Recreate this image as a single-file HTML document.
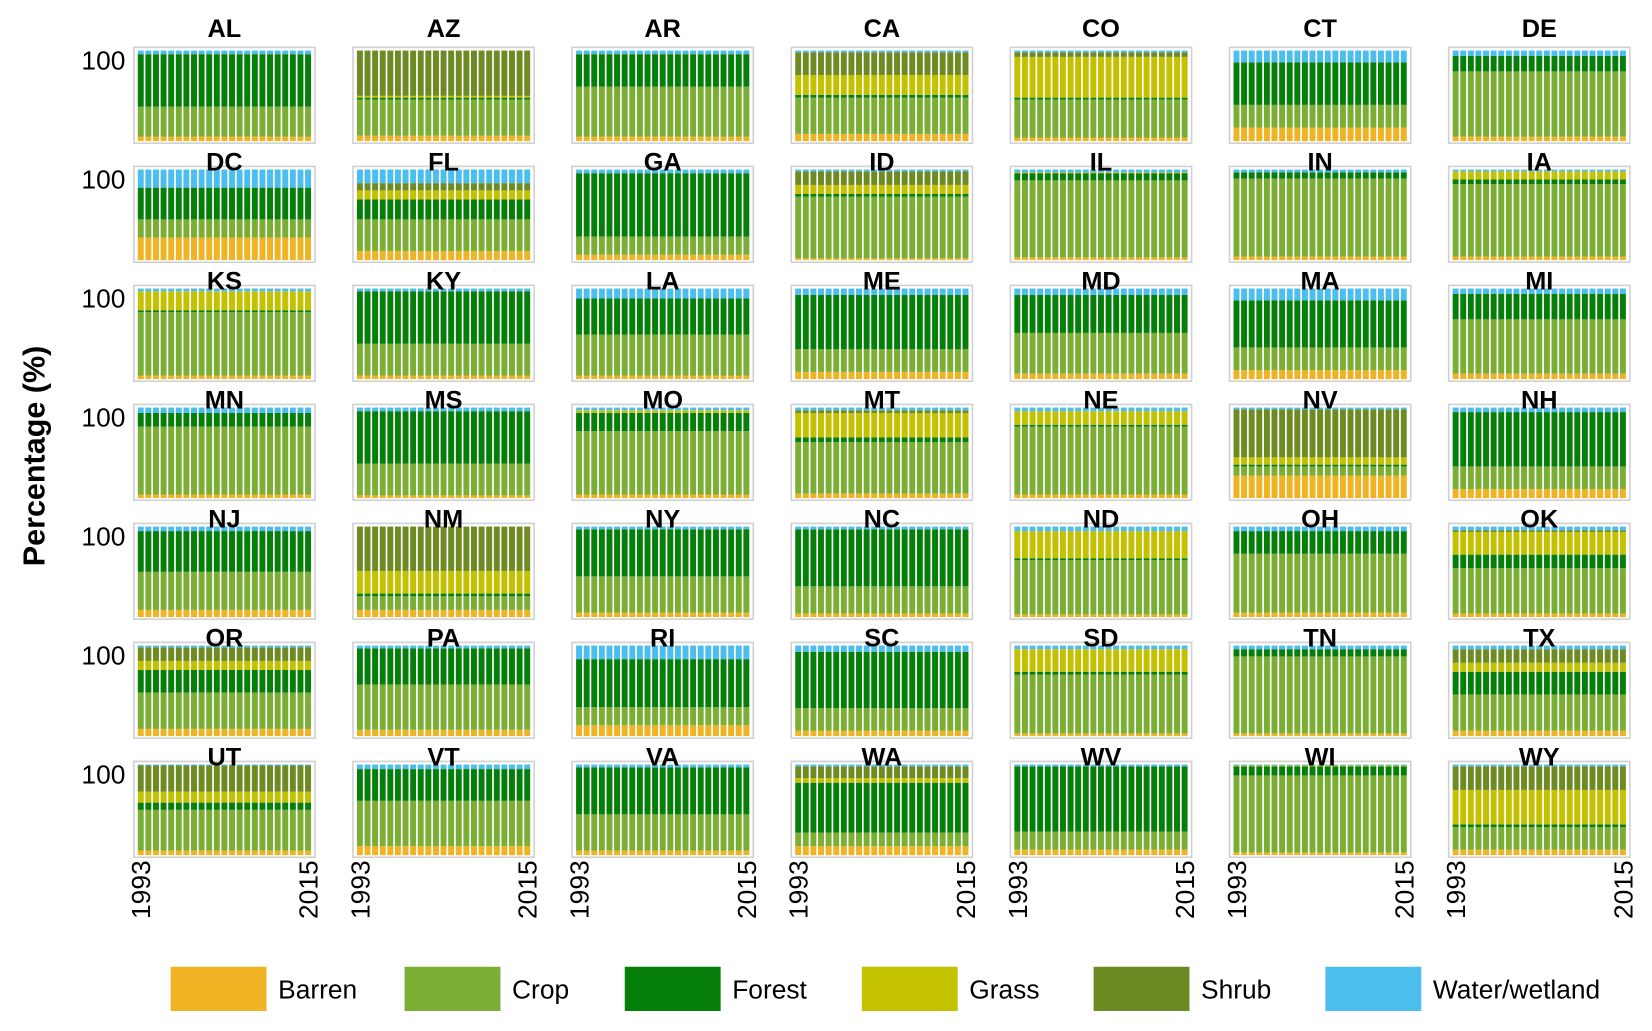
<!DOCTYPE html>
<html><head><meta charset="utf-8"><style>
html,body{margin:0;padding:0;background:#fff;}
svg{display:block;font-family:"Liberation Sans",Arial,sans-serif;}
</style></head><body>
<svg id="chart" width="1652" height="1031" viewBox="0 0 1568 979" preserveAspectRatio="none" xmlns="http://www.w3.org/2000/svg">
<text x="0" y="0" transform="translate(42,433) rotate(-90)" text-anchor="middle" font-size="29" font-weight="bold">Percentage (%)</text>
<g id="panels"></g>
<g id="legend"></g>
</svg>
<script>
const categories = ["Barren","Crop","Forest","Grass","Shrub","Water/wetland"];
const colors = ["#F0B323","#7BAE34","#067F0A","#C4C200","#6E8B23","#4CBEEE"];
const years = ["1993","1994","1995","1996","1997","1998","1999","2000","2001","2002","2003","2004","2005","2006","2007","2008","2009","2010","2011","2012","2013","2014","2015"];
const tickYears = ["1993","2015"];
const states = ["AL","AZ","AR","CA","CO","CT","DE","DC","FL","GA","ID","IL","IN","IA","KS","KY","LA","ME","MD","MA","MI","MN","MS","MO","MT","NE","NV","NH","NJ","NM","NY","NC","ND","OH","OK","OR","PA","RI","SC","SD","TN","TX","UT","VT","VA","WA","WV","WI","WY"];
// composition per state: barren, crop, forest, grass, shrub, water (%)
const barren = [5,6,5,8,4,15,5,25,10,6,2,3,4,4,4,4,4,8,6,10,6,4,3,4,5,4,25,10,8,8,5,4,3,5,4,8,7,12,6,3,3,6,5,10,5,10,6,3,6];
const crop   = [33,40,55,40,42,25,72,20,35,20,68,85,86,80,70,35,45,25,45,25,60,75,35,70,57,75,10,25,42,15,40,30,60,65,50,40,50,20,25,65,85,40,45,50,40,15,20,85,25];
const forest = [58,2,36,3,2,47,17,35,22,70,3,8,7,5,2,58,40,60,42,52,28,15,58,20,5,2,2,60,45,3,52,63,2,25,15,25,40,53,62,3,8,25,8,35,52,55,72,10,3];
const grass  = [0,2,0,22,45,0,0,0,10,0,10,1,0,9,21,0,0,0,0,0,0,0,0,3,27,15,8,0,0,25,0,0,30,0,25,10,0,0,0,25,0,10,12,0,0,5,0,1,38];
const shrub  = [0,50,0,25,5,0,0,0,8,0,15,0,0,0,0,0,0,0,0,0,0,0,0,0,3,0,53,0,0,49,0,0,0,0,2,15,0,0,0,0,0,15,29,0,0,13,0,0,26];
const water  = [4,0,4,2,2,13,6,20,15,4,2,3,3,2,3,3,11,7,7,13,6,6,4,3,3,4,2,5,5,0,3,3,5,5,4,2,3,15,7,4,4,4,1,5,3,2,2,1,2];
const series = [barren,crop,forest,grass,shrub,water];

const NS="http://www.w3.org/2000/svg";
const panelsG=document.getElementById('panels');
const colX0=127, colStep=208, rowY0=45, rowStep=113, frameW=172, frameH=91;
const barTopPad=3, barBotPad=2, barLeftPad=3, barRightPad=3;
function mk(tag,attrs){const e=document.createElementNS(NS,tag);for(const k in attrs)e.setAttribute(k,attrs[k]);return e;}

states.forEach((st,si)=>{
  const c=si%7, r=Math.floor(si/7);
  const fx=colX0+c*colStep, fy=rowY0+r*rowStep;
  const g=mk('g',{});
  
  
  const fr=mk('rect',{x:fx,y:fy,width:frameW,height:frameH,fill:'#fff',stroke:'#d0d0d0','stroke-width':1.5});
  
  
  g.appendChild(fr);
  const y0=fy+frameH-barBotPad, y100=fy+barTopPad;
  const yScale=v=>y0-(y0-y100)*v/100;
  const plotW=frameW-barLeftPad-barRightPad, slot=plotW/years.length, bw=slot*0.78;
  const xScale=i=>fx+barLeftPad+i*slot+(slot-bw)/2;
  years.forEach((yr,i)=>{
    let acc=0;
    const tot=series.reduce((s,a)=>s+a[si],0)||1;
    series.forEach((arr,k)=>{
      const v=arr[si]*100/tot;
      if(v<=0)return;
      const ya=yScale(acc), yb=yScale(acc+v);
      const b=mk('rect',{x:xScale(i),y:yb,width:bw,height:ya-yb,fill:colors[k]});
      
      
      g.appendChild(b);
      acc+=v;
    });
  });
  const t=mk('text',{x:fx+frameW/2,y:(r===0?35:fy+4),'text-anchor':'middle','font-size':24,'font-weight':'bold'});
  t.textContent=st;
  
  
  g.appendChild(t);
  if(c===0){
    const yl=mk('text',{x:119,y:yScale(100)+18,'text-anchor':'end','font-size':25});
    yl.textContent='100';
    
    
    g.appendChild(yl);
  }
  if(r===6){
    [0,years.length-1].forEach((idx,j)=>{
      const cx=xScale(idx)+bw/2+9;
      const xl=mk('text',{x:0,y:0,transform:`translate(${cx},${fy+frameH+3}) rotate(-90)`,'text-anchor':'end','font-size':25});
      xl.textContent=tickYears[j];
      
      
      g.appendChild(xl);
    });
  }
  panelsG.appendChild(g);
});

const legendG=document.getElementById('legend');
const legBoxX=[162,384,593,818,1038,1258];
categories.forEach((cat,k)=>{
  const g=mk('g',{});
  
  
  const b=mk('rect',{x:legBoxX[k],y:918,width:91,height:42,fill:colors[k]});
  
  
  g.appendChild(b);
  const t=mk('text',{x:legBoxX[k]+102,y:948,'font-size':25});
  t.textContent=cat;
  
  
  g.appendChild(t);
  legendG.appendChild(g);
});
</script>
</body></html>
